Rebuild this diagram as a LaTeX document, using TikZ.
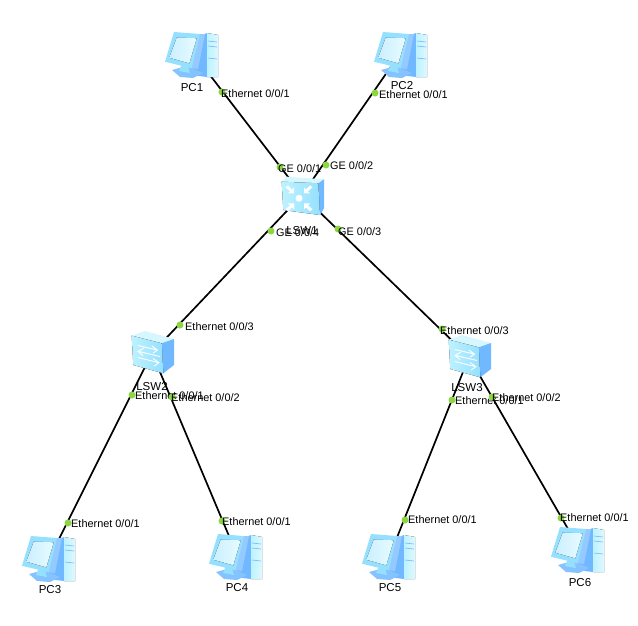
\documentclass[tikz,border=0pt]{standalone}
\usepackage{fontspec}
\setmainfont{Liberation Sans}
\definecolor{dotg}{HTML}{8CD642}
\definecolor{lite}{HTML}{BDF2FF}
\definecolor{mid}{HTML}{96E0FF}
\definecolor{deep}{HTML}{70B8FF}
\tikzset{
  x=1pt,y=-1pt,
  link/.style={line width=1.7pt,black},
  portdot/.style={circle,fill=dotg,draw=none,inner sep=0pt,minimum size=7pt},
  lbl/.style={font=\fontsize{10.9}{12}\selectfont,inner sep=0pt,anchor=west,text=black},
  devlbl/.style={font=\fontsize{11.5}{13}\selectfont,inner sep=0pt,text=black},
  dev/.style={inner sep=0pt,minimum size=1pt},
  pics/pcicon/.style={code={
    \fill[deep] (6,-17) -- (14,-20) -- (14,24) -- (-2,22) -- cycle;
    \fill[left color=lite,right color=white!50!lite] (14,-20) -- (25,-18) -- (25,24) -- (14,24) -- cycle;
    \fill[deep!75!white] (5,-19) -- (12,-19) -- (5,16) -- (-2,15) -- cycle;
    \fill[deep!85!white] (-21,17) -- (-6,13) -- (10,20) -- (0,25) -- (-13,24) -- cycle;
    \fill[mid] (-12,13) -- (-5,13) -- (-3,20) -- (-14,18) -- cycle;
    \fill[mid] (-19,-21) -- (7,-19) -- (-1.3,15.3) -- (-28,8.7) -- cycle;
    \fill[left color=mid!50!white,right color=lite!35!white] (-16.3,-15.3) -- (3.7,-14.7) -- (-3.7,10.3) -- (-23.7,4.7) -- cycle;
    \draw[deep,line width=.6pt] (15,-12) -- (24,-11) (15,-7) -- (24,-6) (15,5) -- (24,6);
  }},
  pics/swicon/.style={code={
    \fill[lite!60!white] (-20.3,-17.3) -- (-7,-22) -- (22,-14) -- (9.7,-9.7) -- cycle;
    \fill[deep] (9.7,-9.7) -- (22,-14) -- (22,12) -- (11.3,20.3) -- cycle;
    \fill[left color=lite,right color=mid] (-20.3,-17.3) -- (9.7,-9.7) -- (11.3,20.3) -- (-18.7,12) -- cycle;
    \draw[white,line width=.9pt] (-14,-7.5) -- (5,-3) (0,-7) -- (5.5,-2.8) -- (1,0);
    \draw[white,line width=.9pt] (8,3.5) -- (-13,-1.5) (-8,-5) -- (-14,-1.5) -- (-9,2.5);
    \draw[white,line width=.9pt] (-14,4.5) -- (6,9.5) (1,5.5) -- (7,9.7) -- (2,13);
  }},
  pics/coreicon/.style={code={
    \fill[lite!60!white] (-20.3,-13.3) -- (-15,-18.3) -- (22,-15.7) -- (16.3,-11.7) -- cycle;
    \fill[deep] (16.3,-11.7) -- (22,-15.7) -- (22,13.3) -- (18,20) -- cycle;
    \fill[left color=lite,right color=mid] (-20.3,-13.3) -- (16.3,-11.7) -- (18,20) -- (-18.7,15) -- cycle;
    \fill[white] (-3,3.3) circle (3.5);
    \foreach \sx/\sy in {1/1,-1/1,1/-1,-1/-1}{
      \begin{scope}[shift={(-3,3.3)},xscale=\sx,yscale=\sy]
        \fill[white] (5,5) -- (11,5) -- (9,7) -- (13.5,11) -- (11,13) -- (7,9) -- (5,11) -- cycle;
      \end{scope}}
  }}
}
\begin{document}
\begin{tikzpicture}
\useasboundingbox (0,0) rectangle (638,625);
\node[dev] (pc1) at (193,53) {};
\node[dev] (pc2) at (399,55) {};
\node[dev] (pc3) at (50,557) {};
\node[dev] (pc4) at (237,555) {};
\node[dev] (pc5) at (390,555) {};
\node[dev] (pc6) at (579,548) {};
\node[dev] (lsw1) at (302,195) {};
\node[dev] (lsw2) at (152,353) {};
\node[dev] (lsw3) at (469,357) {};
\draw[link] (pc1) -- (lsw1);
\draw[link] (pc2) -- (lsw1);
\draw[link] (lsw1) -- (lsw2);
\draw[link] (lsw1) -- (lsw3);
\draw[link] (lsw2) -- (pc3);
\draw[link] (lsw2) -- (pc4);
\draw[link] (lsw3) -- (pc5);
\draw[link] (lsw3) -- (pc6);
\foreach \n/\x/\y in {pc1/193/53,pc2/402/53,pc3/50/557,pc4/237/555,pc5/390/555,pc6/579/548}
  \pic at (\x,\y) {pcicon};
\pic at (302,195) {coreicon};
\pic at (152,353) {swicon};
\pic at (469,357) {swicon};
\node[devlbl] (tpc1) at (192,88) {PC1};
\node[devlbl] (tpc2) at (402,86) {PC2};
\node[devlbl] (tpc3) at (50,590) {PC3};
\node[devlbl] (tpc4) at (237,588) {PC4};
\node[devlbl] (tpc5) at (390,588) {PC5};
\node[devlbl] (tpc6) at (580,583) {PC6};
\node[devlbl] (tl1) at (302,231) {LSW1};
\node[devlbl] (tl2) at (152,387) {LSW2};
\node[devlbl] (tl3) at (467,388) {LSW3};
\foreach \n/\x/\y/\lx/\ly/\t in {
  a/222/92/221/94/{Ethernet 0/0/1},
  b/375/93/379/95/{Ethernet 0/0/1},
  c/280/167/278/169/{GE 0/0/1},
  d/326/165/330/166/{GE 0/0/2},
  e/271/231/276/233/{GE 0/0/4},
  f/338/229/338/232/{GE 0/0/3},
  g/180/325/185/327/{Ethernet 0/0/3},
  h/442/329/440/331/{Ethernet 0/0/3},
  i/132/395/135/396/{Ethernet 0/0/1},
  j/172/397/171/398/{Ethernet 0/0/2},
  k/452/400/455/401/{Ethernet 0/0/1},
  l/492/397/492/398/{Ethernet 0/0/2},
  m/68/523/71/524/{Ethernet 0/0/1},
  n/222/521/222/522/{Ethernet 0/0/1},
  o/405/520/408/520/{Ethernet 0/0/1},
  p/561/518/560/518/{Ethernet 0/0/1}}{
  \node[portdot] (dot\n) at (\x,\y) {};
  \node[lbl] (txt\n) at (\lx,\ly) {\t};
}
\end{tikzpicture}
\end{document}
